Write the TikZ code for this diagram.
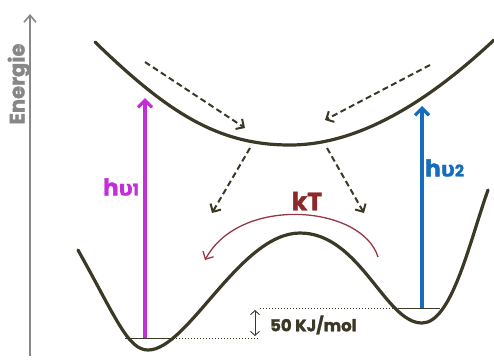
\documentclass[tikz,border=0pt]{standalone}
\usepackage{fontspec}
\setmainfont{Poppins}[BoldFont={* Bold}, BoldFeatures={FakeBold=1.6}]
\newfontfamily\grk{DejaVu Sans}[BoldFeatures={FakeBold=1.2}]
\usetikzlibrary{arrows.meta}
\definecolor{curve}{RGB}{60,56,38}
\definecolor{axisgray}{RGB}{135,135,135}
\definecolor{purp}{RGB}{196,46,216}
\definecolor{blu}{RGB}{22,108,190}
\definecolor{kred}{RGB}{140,40,42}
\definecolor{karc}{RGB}{150,55,70}
\tikzset{
  pot/.style={draw=curve, line width=3.2pt, line cap=round},
  dasharr/.style={draw=curve, line width=2pt, dash pattern=on 6pt off 3.5pt, -{Straight Barb[length=6pt,width=12pt,line width=2pt]}},
  photon/.style={line width=3.4pt, -{Straight Barb[length=7pt,width=14pt,line width=3.2pt]}},
  level/.style={draw=curve, line width=1pt},
  guide/.style={draw=curve, line width=1pt, dotted},
  lbl/.style={font=\bfseries\fontsize{23}{23}\selectfont, inner sep=0pt}
}
\newcommand{\hnu}[1]{h{\grk\bfseries\fontsize{21}{21}\selectfont υ}{\fontsize{16}{16}\selectfont #1}}
\begin{document}
\begin{tikzpicture}[x=1pt, y=-1pt]
		\useasboundingbox (0,0) rectangle (494,360);
		% energy axis
		\coordinate (Ax0) at (30,356);
		\coordinate (Ax1) at (30,14);
		\draw[axisgray, line width=2pt, -{Straight Barb[length=7pt,width=12pt,line width=1.6pt]}] (Ax0) -- (Ax1);
		\node[rotate=90, text=axisgray, font=\bfseries\fontsize{21}{21}\selectfont, inner sep=0pt] (en) at (19,84) {Energie};
		% excited state
		\coordinate (U0) at (95,42);
		\coordinate (Um) at (290,145);
		\coordinate (U1) at (494,40);
		\draw[pot] (U0) .. controls (170,115) and (220,145) .. (Um) .. controls (360,145) and (430,100) .. (U1);
		% ground state, double well
		\coordinate (G0) at (78,250);
		\coordinate (Gm1) at (148,350);
		\coordinate (Gx) at (300,233);
		\coordinate (Gm2) at (422,323);
		\coordinate (G1) at (488,190);
		\draw[pot] (G0) .. controls (116,318) and (128,350) .. (Gm1)
		  .. controls (188,350) and (240,233) .. (Gx)
		  .. controls (360,233) and (385,323) .. (Gm2)
		  .. controls (452,323) and (470,240) .. (G1);
		% vibrational levels
		\coordinate (L1a) at (125,338);
		\coordinate (L1b) at (170,338);
		\coordinate (L1c) at (258,338);
		\coordinate (L2a) at (398,308);
		\coordinate (L2b) at (440,308);
		\coordinate (L2c) at (260,308);
		\draw[level] (L1a) -- (L1b);
		\draw[level] (L2a) -- (L2b);
		\draw[guide] (L1b) -- (L1c);
		\draw[guide] (L2c) -- (L2a);
		% barrier height
		\coordinate (E0) at (255,336);
		\coordinate (E1) at (255,310);
		\draw[curve, line width=0.9pt, {Straight Barb[length=4pt,width=9pt]}-{Straight Barb[length=4pt,width=9pt]}] (E0) -- (E1);
		\node[anchor=west, text=curve, font=\bfseries\fontsize{16.5}{16.5}\selectfont, inner sep=0pt] (ea) at (270,325) {50 KJ/mol};
		% absorption
		\coordinate (P1) at (145,98);
		\coordinate (P2) at (422,106);
		\draw[photon, purp] (L1a -| P1) -- (P1);
		\draw[photon, blu] (L2a -| P2) -- (P2);
		\node[lbl, text=purp, anchor=east] (hv1) at (139,187) {\hnu{1}};
		\node[lbl, text=blu, anchor=west] (hv2) at (425,168) {\hnu{2}};
		% relaxation
		\coordinate (R0) at (145,62);
		\coordinate (R1) at (245,128);
		\coordinate (R2) at (430,65);
		\coordinate (R3) at (325,120);
		\coordinate (R4) at (250,148);
		\coordinate (R5) at (212,213);
		\coordinate (R6) at (327,148);
		\coordinate (R7) at (364,213);
		\draw[dasharr] (R0) -- (R1);
		\draw[dasharr] (R2) -- (R3);
		\draw[dasharr] (R4) -- (R5);
		\draw[dasharr] (R6) -- (R7);
		% thermal hop
		\coordinate (K0) at (378,257);
		\coordinate (K1) at (205,260);
		\draw[karc, line width=1.3pt, -{Straight Barb[length=6pt,width=12pt,line width=1.3pt]}] (K0) .. controls (362,205) and (240,195) .. (K1);
		\node[lbl, text=kred, font=\bfseries\fontsize{25}{25}\selectfont] (kt) at (307,201) {kT};
	\end{tikzpicture}
\end{document}
